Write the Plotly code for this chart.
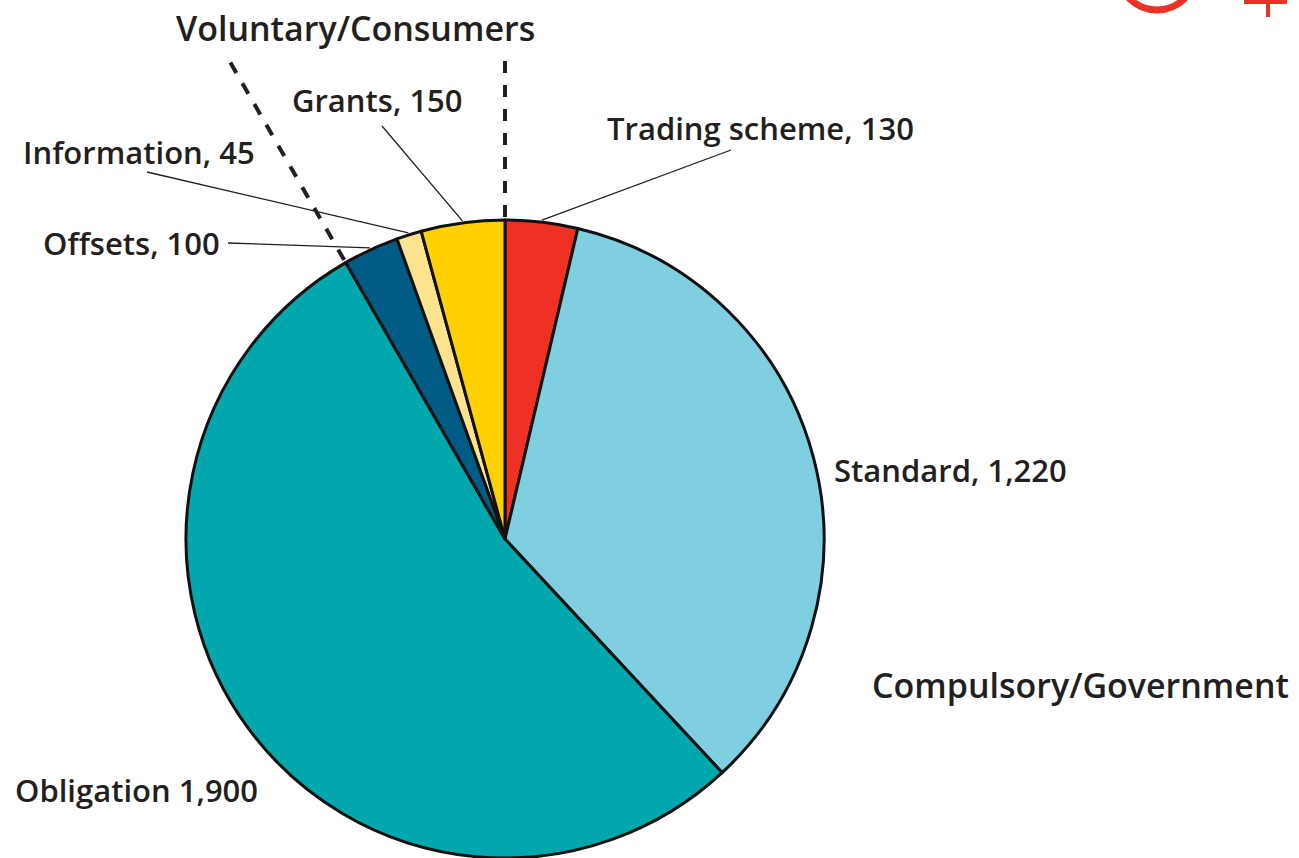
import numpy as np
import plotly.graph_objects as go

# ---- data ----
labels = ["Trading scheme", "Standard", "Obligation", "Offsets", "Information", "Grants"]
values = [130, 1220, 1900, 100, 45, 150]
label_texts = ["Trading scheme, 130", "Standard, 1,220", "Obligation 1,900",
               "Offsets, 100", "Information, 45", "Grants, 150"]
colors = ["#EE3124", "#7FCFE0", "#00A8AD", "#005B85", "#FFE38F", "#FFD100"]
group_labels = ["Voluntary/Consumers", "Compulsory/Government"]

W, H = 1299, 858
CX, CY, R = 505, 539, 319  # pie centre/radius in pixels (layout)


def px(x):
    return x / W


def py(y):
    return 1 - y / H


fig = go.Figure()
fig.add_trace(go.Pie(
    labels=labels, values=values, sort=False, direction="clockwise", rotation=0,
    marker=dict(colors=colors, line=dict(color="#111111", width=3)),
    textinfo="none", hoverinfo="label+value", showlegend=False,
    domain=dict(x=[px(CX - R), px(CX + R)], y=[py(CY + R), py(CY - R)]),
))

vals = np.array(values, dtype=float)
cum = np.concatenate([[0], np.cumsum(vals)])
total = vals.sum()
mid_ang = (cum[:-1] + vals / 2) / total * 2 * np.pi
bnd_ang = cum / total * 2 * np.pi


def edge(a, r=R):
    return CX + r * np.sin(a), CY - r * np.cos(a)


FONT = dict(family="Open Sans", size=31, color="#231F20", weight=600)
shapes = []
annotations = []

# leader lines: (slice index, end point, text position, anchor)
leaders = [
    (0, (731, 150), (605, 128), "left"),
    (5, (382, 126), (290, 100), "left"),
    (4, (147, 172), (21, 152), "left"),
    (3, (228, 243), (41, 243), "left"),
]
for i, (ex, ey), (tx, ty), anc in leaders:
    sx, sy = edge(mid_ang[i], R + 2)
    shapes.append(dict(type="line", xref="paper", yref="paper",
                       x0=px(sx), y0=py(sy), x1=px(ex), y1=py(ey),
                       line=dict(color="#231F20", width=1.3)))
    annotations.append(dict(text=label_texts[i], x=px(tx), y=py(ty), xref="paper", yref="paper",
                            xanchor=anc, yanchor="middle", showarrow=False, font=FONT))

annotations.append(dict(text=label_texts[1], x=px(832), y=py(470), xref="paper", yref="paper",
                        xanchor="left", yanchor="middle", showarrow=False, font=FONT))
annotations.append(dict(text=label_texts[2], x=px(13), y=py(790), xref="paper", yref="paper",
                        xanchor="left", yanchor="middle", showarrow=False, font=FONT))

# dashed group separators at slice boundaries
for a in [bnd_ang[0], bnd_ang[3]]:
    sx, sy = edge(a, R + 3)
    L = (sy - 52) / np.cos(a)
    ex, ey = sx + L * np.sin(a), sy - L * np.cos(a)
    shapes.append(dict(type="line", xref="paper", yref="paper",
                       x0=px(sx), y0=py(sy), x1=px(ex), y1=py(ey),
                       line=dict(color="#231F20", width=4, dash="dash")))

GFONT = dict(family="Open Sans", size=34, color="#231F20", weight=600)
annotations.append(dict(text=group_labels[0], x=px(355), y=py(28), xref="paper", yref="paper",
                        xanchor="center", yanchor="middle", showarrow=False, font=GFONT))
annotations.append(dict(text=group_labels[1], x=px(1291), y=py(685), xref="paper", yref="paper",
                        xanchor="right", yanchor="middle", showarrow=False, font=GFONT))

# partial logo, top right
shapes.append(dict(type="circle", xref="paper", yref="paper",
                   x0=px(1118), y0=py(-68), x1=px(1196), y1=py(10),
                   line=dict(color="#EE3124", width=7)))
shapes.append(dict(type="line", xref="paper", yref="paper",
                   x0=px(1268), y0=py(0), x1=px(1268), y1=py(17),
                   line=dict(color="#EE3124", width=4)))
shapes.append(dict(type="line", xref="paper", yref="paper",
                   x0=px(1244), y0=py(2), x1=px(1287), y1=py(2),
                   line=dict(color="#EE3124", width=4)))

fig.update_layout(
    width=W, height=H, margin=dict(l=0, r=0, t=0, b=0),
    paper_bgcolor="white", plot_bgcolor="white",
    shapes=shapes, annotations=annotations,
)
fig.write_html("out.html", config={"displayModeBar": False},
               post_script="document.body.style.margin='0';document.body.style.overflow='hidden';")
